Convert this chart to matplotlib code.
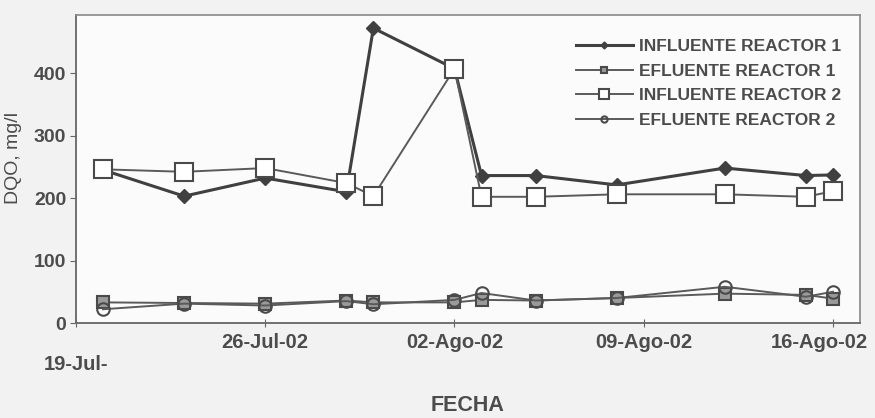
import datetime as dt
import matplotlib
matplotlib.use("Agg")
import matplotlib.pyplot as plt
import matplotlib.dates as mdates
from matplotlib.transforms import ScaledTranslation

plt.rcParams["font.family"] = ["Liberation Sans", "DejaVu Sans"]

# Sampling dates (2002)
fechas = [
    dt.date(2002, 7, 20), dt.date(2002, 7, 23), dt.date(2002, 7, 26),
    dt.date(2002, 7, 29), dt.date(2002, 7, 30), dt.date(2002, 8, 2),
    dt.date(2002, 8, 3), dt.date(2002, 8, 5), dt.date(2002, 8, 8),
    dt.date(2002, 8, 12), dt.date(2002, 8, 15), dt.date(2002, 8, 16),
]

# DQO (mg/l)
influente_r1 = [245, 203, 232, 210, 472, 407, 236, 236, 221, 248, 236, 237]
efluente_r1 = [33, 32, 31, 36, 33, 33, 37, 36, 40, 47, 45, 39]
influente_r2 = [246, 242, 248, 224, 203, 407, 202, 202, 206, 206, 202, 211]
efluente_r2 = [22, 31, 28, 35, 30, 37, 48, 36, 40, 58, 42, 50]

tick_dates = [dt.date(2002, 7, 19), dt.date(2002, 7, 26), dt.date(2002, 8, 2),
              dt.date(2002, 8, 9), dt.date(2002, 8, 16)]
tick_labels = ["\n19-Jul-", "26-Jul-02", "02-Ago-02", "09-Ago-02", "16-Ago-02"]

text_color = "#4c4c4c"
line_color = "#5a5a5a"

fig = plt.figure(figsize=(8.75, 4.18), dpi=100, facecolor="#f2f2f2")
ax = fig.add_axes([76 / 875, 1 - 323 / 418, (860 - 76) / 875, (323 - 15) / 418])
ax.set_facecolor("#fbfbfb")

ax.plot(fechas, influente_r1, color="#404040", lw=2.2, marker="D", ms=7,
        mfc="#404040", mec="#404040", label="INFLUENTE REACTOR 1", zorder=3)
ax.plot(fechas, efluente_r1, color=line_color, lw=1.4, marker="s", ms=9,
        mfc="#9a9a9a", mec="#4a4a4a", mew=1.5, label="EFLUENTE REACTOR 1", zorder=4)
ax.plot(fechas, influente_r2, color=line_color, lw=1.4, marker="s", ms=13,
        mfc="white", mec="#4a4a4a", mew=1.5, label="INFLUENTE REACTOR 2", zorder=5)
ax.plot(fechas, efluente_r2, color=line_color, lw=1.4, marker="o", ms=9,
        mfc="none", mec="#4a4a4a", mew=1.5, label="EFLUENTE REACTOR 2", zorder=4)

ax.set_xlim(mdates.date2num(dt.date(2002, 7, 19)), mdates.date2num(dt.date(2002, 8, 17)))
ax.set_ylim(0, 493)
ax.set_yticks([0, 100, 200, 300, 400])
ax.set_xticks([mdates.date2num(d) for d in tick_dates])
ax.set_xticklabels(tick_labels, fontweight="bold")
for lbl in ax.get_yticklabels():
    lbl.set_fontweight("bold")

for side in ("left", "bottom"):
    ax.spines[side].set_color("#666666")
    ax.spines[side].set_linewidth(1.3)
for side in ("top", "right"):
    ax.spines[side].set_color("#888888")
    ax.spines[side].set_linewidth(1.2)

ax.tick_params(axis="y", direction="out", length=4, color="#666666",
               labelsize=14, labelcolor=text_color, pad=3)
ax.tick_params(axis="x", direction="inout", length=6, color="#666666",
               labelsize=14.5, labelcolor=text_color, pad=4)

# keep the last date label inside the figure
last = ax.get_xticklabels()[-1]
last.set_transform(last.get_transform() + ScaledTranslation(-0.14, 0, fig.dpi_scale_trans))

ax.set_xlabel("FECHA", fontsize=15.5, fontweight="bold", color=text_color)
ax.xaxis.set_label_coords(0.5, -0.235)
ax.set_ylabel("DQO, mg/l", fontsize=14, color=text_color)
ax.yaxis.set_label_coords(-0.069, 0.536)

leg = ax.legend(loc="upper right", bbox_to_anchor=(0.985, 0.945), frameon=False,
                prop={"size": 12.5, "weight": "bold"}, markerscale=0.5,
                handlelength=3.3, labelspacing=0.55, handletextpad=0.35,
                borderaxespad=0.0)
for t in leg.get_texts():
    t.set_color(text_color)

fig.savefig("out.png", dpi=100, facecolor=fig.get_facecolor())
